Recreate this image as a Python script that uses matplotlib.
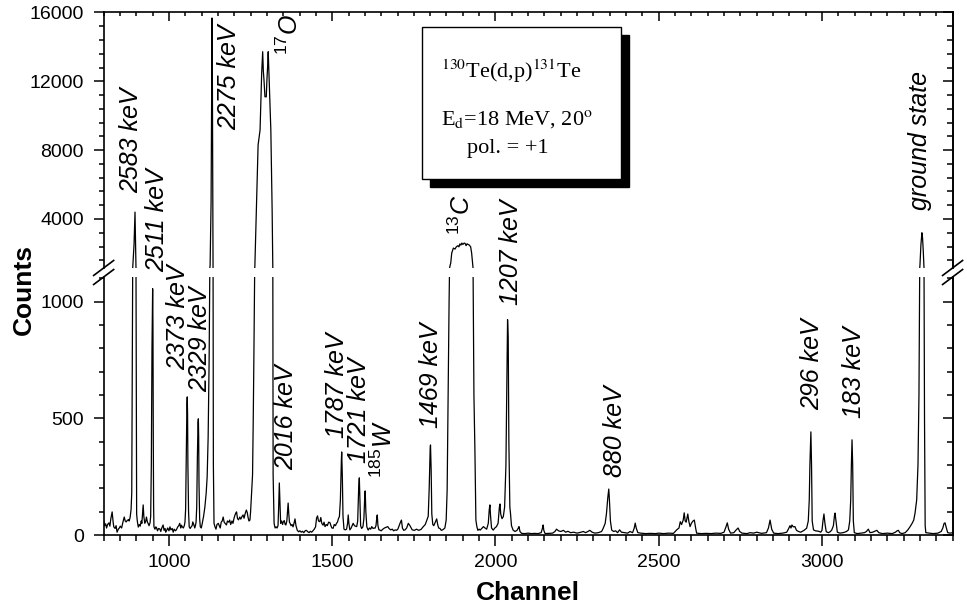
"""
130Te(d,p)131Te proton spectrum with a broken count axis.
"""
import matplotlib
matplotlib.use('Agg')

import matplotlib.pyplot as plt
import matplotlib.patches as patches
from matplotlib.lines import Line2D
from matplotlib.ticker import MultipleLocator, NullFormatter

plt.rcParams['font.family'] = ['Liberation Sans', 'DejaVu Sans']
plt.rcParams['mathtext.fontset'] = 'custom'
plt.rcParams['mathtext.rm'] = 'Liberation Sans'
plt.rcParams['mathtext.it'] = 'Liberation Sans:italic'
plt.rcParams['mathtext.bf'] = 'Liberation Sans:bold'

# ─── spectrum vertices (channel, counts) ───

seg_800_1000 = [
    (800, 62), (803, 40), (806, 48), (809, 30), (812, 45), (816, 52), (819, 38),
    (822, 70), (826, 99), (829, 55), (831, 35), (835, 28), (838, 40), (841, 12),
    (845, 25), (848, 30), (851, 38), (855, 30), (859, 55), (863, 77), (866, 60),
    (869, 56), (872, 62), (876, 66), (878, 60), (881, 75), (884, 110), (886, 180),
    (889, 1150), (893, 2500), (896, 4400), (898, 2000), (899, 1150), (901, 90),
    (903, 60), (906, 34), (909, 45), (912, 38), (915, 60), (917, 50), (919, 90),
    (921, 129), (923, 80), (926, 50), (929, 60), (931, 77), (934, 55), (936, 50),
    (939, 40), (942, 52), (944, 80), (946, 300), (948, 800), (950, 1056),
    (951, 900), (952, 400), (953, 120), (954, 35), (957, 25), (960, 35), (962, 30),
    (965, 18), (968, 28), (972, 26), (975, 15), (978, 30), (982, 43), (985, 20),
    (988, 28), (990, 12), (993, 20), (996, 30), (1000, 18),
]

seg_1000_1250 = [
    (1003, 35), (1006, 22), (1010, 28), (1013, 12), (1016, 25), (1020, 18),
    (1023, 23), (1027, 35), (1030, 40), (1033, 50), (1036, 30), (1038, 42),
    (1041, 35), (1044, 30), (1047, 40), (1049, 55), (1051, 110), (1053, 330),
    (1055, 560), (1056, 592), (1057, 520), (1058, 300), (1060, 100), (1062, 35),
    (1065, 28), (1068, 35), (1071, 40), (1073, 56), (1076, 45), (1079, 30),
    (1081, 40), (1083, 55), (1085, 120), (1087, 330), (1089, 480), (1090, 498),
    (1091, 420), (1092, 220), (1094, 70), (1096, 35), (1099, 30), (1102, 50),
    (1106, 80), (1110, 120), (1114, 180), (1117, 250), (1120, 420), (1123, 750),
    (1126, 1300), (1129, 5000), (1131, 12000), (1132, 15680), (1133, 12000),
    (1134, 6000), (1135, 1200), (1136, 300), (1138, 50), (1141, 35), (1144, 25),
    (1147, 45), (1151, 50), (1154, 40), (1157, 30), (1160, 55), (1163, 60),
    (1166, 77), (1169, 55), (1172, 50), (1176, 43), (1179, 60), (1183, 55),
    (1186, 64), (1189, 45), (1193, 60), (1196, 50), (1199, 70), (1202, 85),
    (1205, 95), (1207, 99), (1210, 70), (1213, 65), (1217, 77), (1220, 68),
    (1224, 80), (1227, 86), (1230, 72), (1233, 90), (1237, 107), (1240, 95),
    (1242, 77), (1245, 60), (1248, 64),
]

seg_17o = [
    (1250, 100), (1253, 180), (1256, 258), (1258, 480), (1260, 751), (1263, 1210),
    (1268, 4800), (1273, 8300), (1279, 9170), (1284, 12500), (1287, 13720),
    (1289, 12600), (1291, 12080), (1294, 11100), (1298, 11100), (1300, 12080),
    (1302, 12800), (1304, 13720), (1307, 12080), (1312, 9170), (1316, 4500),
    (1318, 1210), (1319, 258), (1322, 50), (1325, 30), (1328, 35),
]

seg_1330_1845 = [
    (1331, 30), (1334, 40), (1336, 120), (1338, 223), (1340, 130), (1342, 50),
    (1345, 60), (1348, 45), (1350, 56), (1353, 62), (1356, 45), (1358, 43),
    (1361, 60), (1363, 100), (1365, 137), (1367, 90), (1369, 55), (1371, 50),
    (1374, 40), (1377, 45), (1380, 35), (1383, 50), (1386, 69), (1389, 40),
    (1393, 20), (1397, 14), (1401, 18), (1405, 12), (1409, 16), (1413, 10),
    (1417, 18), (1421, 20), (1425, 14), (1429, 10), (1433, 16), (1437, 12),
    (1441, 18), (1445, 25), (1449, 35), (1452, 72), (1455, 82), (1458, 60),
    (1462, 57), (1465, 75), (1468, 50), (1472, 42), (1475, 55), (1478, 36),
    (1482, 45), (1485, 40), (1489, 55), (1493, 53), (1496, 40), (1499, 30),
    (1503, 29), (1506, 45), (1510, 40), (1513, 50), (1516, 55), (1519, 70),
    (1522, 79), (1525, 150), (1528, 320), (1529, 356), (1531, 250), (1533, 80),
    (1536, 25), (1540, 22), (1544, 25), (1547, 50), (1549, 86), (1551, 50),
    (1554, 22), (1558, 30), (1561, 40), (1564, 50), (1568, 40), (1571, 38),
    (1575, 36), (1578, 60), (1581, 200), (1583, 245), (1585, 150), (1587, 40),
    (1590, 28), (1594, 35), (1597, 70), (1600, 180), (1601, 189), (1603, 100),
    (1606, 35), (1610, 21), (1614, 30), (1618, 25), (1621, 36), (1625, 28),
    (1628, 30), (1631, 29), (1634, 40), (1637, 80), (1638, 86), (1640, 40),
    (1643, 22), (1646, 21), (1650, 18), (1655, 25), (1660, 30), (1665, 33),
    (1670, 36), (1674, 28), (1679, 22), (1684, 25), (1688, 18), (1693, 22),
    (1697, 20), (1701, 25), (1705, 40), (1709, 55), (1712, 64), (1715, 30),
    (1719, 20), (1723, 22), (1728, 30), (1733, 50), (1738, 40), (1745, 22),
    (1752, 20), (1758, 25), (1765, 20), (1772, 24), (1779, 36), (1785, 45),
    (1790, 64), (1794, 80), (1797, 200), (1800, 370), (1801, 386), (1803, 280),
    (1805, 90), (1808, 45), (1811, 40), (1814, 50), (1817, 60), (1820, 69),
    (1823, 45), (1826, 30), (1830, 28), (1834, 20), (1838, 22), (1841, 25),
]

seg_13c = [
    (1845, 30), (1849, 64), (1852, 193), (1855, 580), (1858, 1010), (1861, 1300),
    (1863, 1440), (1866, 2020), (1871, 2310), (1876, 2250), (1880, 2380),
    (1885, 2450), (1888, 2380), (1891, 2550), (1894, 2480), (1897, 2600),
    (1900, 2520), (1904, 2600), (1907, 2580), (1910, 2450), (1913, 2560),
    (1916, 2520), (1920, 2480), (1924, 2380), (1927, 2020), (1929, 1600),
    (1931, 1200), (1934, 600), (1937, 365), (1940, 64), (1943, 36), (1946, 20),
]

seg_1950_2480 = [
    (1950, 25), (1953, 21), (1958, 28), (1963, 36), (1968, 30), (1973, 25),
    (1978, 50), (1981, 110), (1983, 129), (1985, 80), (1988, 30), (1993, 21),
    (1998, 30), (2003, 36), (2008, 50), (2012, 120), (2014, 133), (2016, 90),
    (2020, 70), (2024, 79), (2028, 120), (2032, 300), (2035, 700), (2037, 923),
    (2039, 850), (2041, 400), (2044, 120), (2046, 93), (2049, 40), (2054, 21),
    (2060, 15), (2066, 20), (2070, 30), (2072, 36), (2075, 15), (2080, 7),
    (2090, 6), (2100, 8), (2110, 6), (2120, 7), (2130, 6), (2140, 10), (2144, 30),
    (2146, 43), (2148, 20), (2152, 6), (2165, 7), (2175, 8), (2182, 15),
    (2187, 25), (2193, 18), (2200, 15), (2208, 20), (2215, 12), (2222, 16),
    (2230, 10), (2240, 12), (2250, 8), (2262, 12), (2269, 15), (2276, 10),
    (2283, 15), (2289, 20), (2296, 12), (2305, 8), (2315, 10), (2325, 15),
    (2330, 29), (2336, 50), (2340, 93), (2344, 160), (2347, 197), (2349, 150),
    (2352, 60), (2356, 21), (2362, 15), (2368, 18), (2374, 10), (2380, 22),
    (2386, 12), (2395, 10), (2405, 8), (2412, 15), (2420, 10), (2425, 30),
    (2428, 51), (2431, 30), (2436, 10), (2445, 8), (2460, 6), (2475, 7),
]

seg_2480_3400 = [
    (2490, 6), (2500, 8), (2515, 6), (2530, 8), (2545, 7), (2555, 22), (2562, 30),
    (2566, 57), (2570, 45), (2575, 64), (2578, 95), (2581, 60), (2584, 55),
    (2589, 90), (2592, 60), (2596, 36), (2600, 50), (2605, 60), (2609, 64),
    (2613, 30), (2616, 8), (2630, 6), (2645, 7), (2660, 6), (2675, 8), (2690, 7),
    (2700, 12), (2706, 35), (2710, 52), (2714, 25), (2720, 8), (2730, 10),
    (2736, 20), (2743, 30), (2748, 15), (2755, 8), (2770, 6), (2780, 10),
    (2790, 8), (2800, 12), (2815, 7), (2830, 10), (2836, 30), (2841, 64),
    (2846, 25), (2852, 8), (2865, 6), (2880, 8), (2892, 12), (2897, 25),
    (2902, 40), (2905, 30), (2908, 43), (2912, 35), (2917, 36), (2922, 20),
    (2928, 15), (2935, 12), (2945, 20), (2953, 29), (2958, 60), (2961, 150),
    (2963, 300), (2966, 442), (2968, 300), (2970, 60), (2974, 22), (2980, 18),
    (2990, 16), (2996, 12), (3000, 20), (3003, 60), (3006, 90), (3009, 50),
    (3013, 14), (3020, 10), (3026, 15), (3030, 22), (3035, 40), (3038, 80),
    (3040, 94), (3043, 60), (3047, 12), (3055, 8), (3065, 10), (3075, 15),
    (3081, 22), (3085, 60), (3088, 150), (3090, 300), (3092, 408), (3094, 300),
    (3096, 60), (3099, 10), (3108, 6), (3120, 8), (3130, 10), (3136, 15),
    (3142, 25), (3147, 10), (3155, 12), (3160, 15), (3168, 20), (3174, 10),
    (3185, 6), (3200, 8), (3215, 6), (3225, 12), (3230, 18), (3234, 20),
    (3238, 10), (3245, 6), (3255, 10), (3263, 22), (3270, 36), (3276, 50),
    (3281, 64), (3285, 94), (3290, 150), (3294, 300), (3297, 600), (3300, 1300),
    (3303, 2500), (3306, 3200), (3308, 2900), (3310, 2200), (3312, 1300),
    (3314, 500), (3316, 40), (3318, 10), (3340, 6), (3355, 8), (3365, 15),
    (3370, 30), (3374, 50), (3377, 52), (3380, 35), (3385, 10), (3392, 8),
    (3400, 10),
]

# ─── peak labels: text, channel, counts, panel ───

peak_labels = [
    ('2583 keV', 884, 5511, 'hi'),
    ('2511 keV', 963, 1127, 'lo'),
    ('2373 keV', 1027, 707, 'lo'),
    ('2329 keV', 1096, 613, 'lo'),
    ('2275 keV', 1184, 9172, 'hi'),
    (r'$^{\mathit{17}}$O', 1369, 13530, 'hi'),
    ('2016 keV', 1358, 279, 'lo'),
    ('1787 keV', 1515, 416, 'lo'),
    ('1721 keV', 1581, 309, 'lo'),
    (r'$^{\mathit{185}}$W', 1658, 244, 'lo'),
    ('1469 keV', 1802, 459, 'lo'),
    (r'$^{\mathit{13}}$C', 1897, 3070, 'hi'),
    ('1207 keV', 2047, 986, 'lo'),
    ('880 keV', 2366, 249, 'lo'),
    ('296 keV', 2969, 536, 'lo'),
    ('183 keV', 3098, 501, 'lo'),
    ('ground state', 3300, 4523, 'hi'),
]

X_RANGE = (800, 3400)
LO_RANGE = (0, 1106)
HI_RANGE = (1153, 16000)


def _style_panel(ax, y_major, y_minor, top_panel):
    """tick style: bottom/left out, top/right in"""
    ax.set_xlim(*X_RANGE)
    ax.xaxis.set_major_locator(MultipleLocator(500))
    ax.xaxis.set_minor_locator(MultipleLocator(50))
    ax.yaxis.set_major_locator(MultipleLocator(y_major))
    ax.yaxis.set_minor_locator(MultipleLocator(y_minor))
    for sp in ax.spines.values():
        sp.set_linewidth(1.2)

    if top_panel:
        ax.spines['bottom'].set_visible(False)
        ax.tick_params(axis='x', which='both', direction='in', bottom=False,
                       top=True, labelbottom=False, width=1.1)
        ax.tick_params(axis='x', which='major', length=6.5)
        ax.tick_params(axis='x', which='minor', length=3.2)
    else:
        ax.spines['top'].set_visible(False)
        ax.tick_params(axis='x', which='both', direction='out', top=False,
                       labelsize=14, pad=6, width=1.1)
        ax.tick_params(axis='x', which='major', length=8)
        ax.tick_params(axis='x', which='minor', length=4.3)

    ax.tick_params(axis='y', which='both', direction='out', right=False,
                   labelsize=14, pad=7, width=1.1)
    ax.tick_params(axis='y', which='major', length=7.2)
    ax.tick_params(axis='y', which='minor', length=3.6)

    sec = ax.secondary_yaxis('right')
    sec.yaxis.set_major_locator(MultipleLocator(y_major))
    sec.yaxis.set_minor_locator(MultipleLocator(y_minor))
    sec.yaxis.set_major_formatter(NullFormatter())
    sec.tick_params(axis='y', which='both', direction='in', width=1.1)
    sec.tick_params(axis='y', which='major', length=7.2)
    sec.tick_params(axis='y', which='minor', length=4.2)
    sec.spines['right'].set_linewidth(1.2)


def _break_marks(ax, y_edge, w_px, h_px):
    """two little slashes where the count axis is cut"""
    dx = 10.0 / w_px
    dy = 7.5 / h_px
    for x0 in (0.0, 1.0):
        ax.add_line(Line2D([x0 - dx, x0 + dx], [y_edge - dy, y_edge + dy],
                           transform=ax.transAxes, color='black',
                           linewidth=1.2, clip_on=False))


def build_chart():
    spectrum = (seg_800_1000 + seg_1000_1250 + seg_17o + seg_1330_1845
                + seg_13c + seg_1950_2480 + seg_2480_3400)
    channel = [c for c, _ in spectrum]
    counts = [n for _, n in spectrum]

    fig = plt.figure(figsize=(9.67, 6.10), dpi=100)
    ax_lo = fig.add_axes([0.1072, 0.12295, 0.8779, 0.42295])
    ax_hi = fig.add_axes([0.1072, 0.5607, 0.8779, 0.41885], sharex=ax_lo)
    # transparent panels so labels may cross the break
    ax_lo.patch.set_visible(False)
    ax_hi.patch.set_visible(False)

    for ax in (ax_lo, ax_hi):
        ax.plot(channel, counts, color='black', linewidth=0.9)

    ax_lo.set_ylim(*LO_RANGE)
    ax_hi.set_ylim(*HI_RANGE)
    _style_panel(ax_lo, 500, 100, top_panel=False)
    _style_panel(ax_hi, 4000, 800, top_panel=True)

    _break_marks(ax_hi, 0.0, 849, 255.5)
    _break_marks(ax_lo, 1.0, 849, 258)

    # peak labels
    for text, ch, cnt, panel in peak_labels:
        ax = ax_hi if panel == 'hi' else ax_lo
        ax.text(ch, cnt, text, rotation=90, fontsize=18, fontstyle='italic',
                ha='center', va='bottom', clip_on=False)

    # axis titles
    fig.text(0.546, 0.028, 'Channel', fontsize=19, fontweight='bold',
             ha='center', va='center')
    fig.text(0.025, 0.526, 'Counts', fontsize=19, fontweight='bold',
             rotation=90, ha='center', va='center')

    # reaction box with drop shadow
    bx, by, bw, bh = 0.4364, 0.7066, 0.2058, 0.2492
    sx, sy = 8 / 967, 8 / 610
    fig.add_artist(patches.Rectangle((bx + sx, by - sy), bw, bh,
                                     transform=fig.transFigure,
                                     facecolor='black', edgecolor='black',
                                     zorder=5))
    fig.add_artist(patches.Rectangle((bx, by), bw, bh,
                                     transform=fig.transFigure,
                                     facecolor='white', edgecolor='black',
                                     linewidth=1.0, zorder=6))
    box_lines = [
        (r'$^{130}$Te(d,p)$^{131}$Te', 0.5284, 0.8721),
        (r'E$_{\rm d}$=18 MeV, 20$^{\rm o}$', 0.5346, 0.7951),
        ('pol. = +1', 0.5253, 0.7492),
    ]
    for text, x, y in box_lines:
        fig.text(x, y, text, family='Liberation Serif', fontsize=16,
                 math_fontfamily='stix', ha='center', va='baseline',
                 zorder=7)

    return fig


if __name__ == '__main__':
    fig = build_chart()
    fig.savefig('out.png', dpi=100, facecolor='white')
    plt.close(fig)
